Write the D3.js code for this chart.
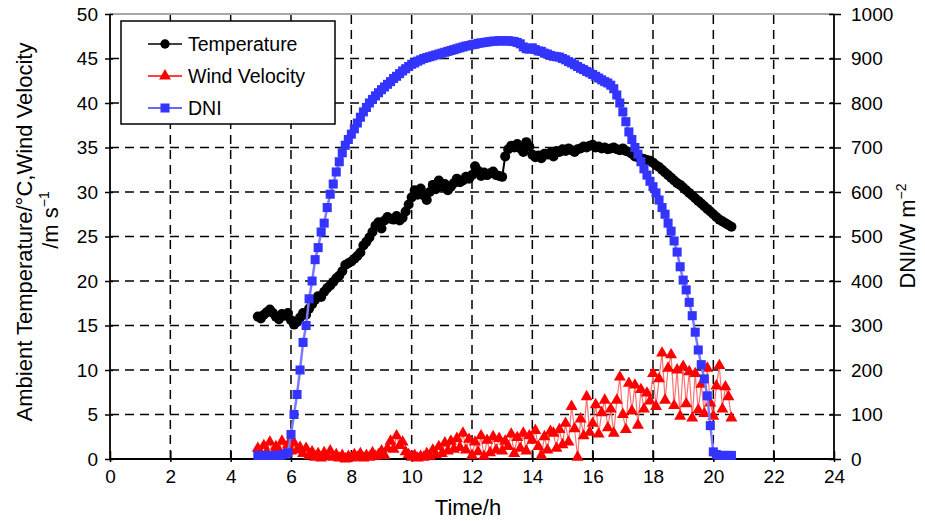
<!DOCTYPE html>
<html>
<head>
<meta charset="utf-8">
<script src="https://cdn.jsdelivr.net/npm/d3@7"></script>
<style>
  body { margin: 0; background: #fff; }
  svg { font-family: "Liberation Sans", Arial, Helvetica, sans-serif; }
</style>
</head>
<body>
<svg id="chart" width="925" height="521"></svg>
<script>
// sample times (h), one row per hour
var hours = [4.9,
  5.0,5.1,5.2,5.3,5.4,5.5,5.6,5.7,5.8,5.9,
  6.0,6.1,6.2,6.3,6.4,6.5,6.6,6.7,6.8,6.9,
  7.0,7.1,7.2,7.3,7.4,7.5,7.6,7.7,7.8,7.9,
  8.0,8.1,8.2,8.3,8.4,8.5,8.6,8.7,8.8,8.9,
  9.0,9.1,9.2,9.3,9.4,9.5,9.6,9.7,9.8,9.9,
  10.0,10.1,10.2,10.3,10.4,10.5,10.6,10.7,10.8,10.9,
  11.0,11.1,11.2,11.3,11.4,11.5,11.6,11.7,11.8,11.9,
  12.0,12.1,12.2,12.3,12.4,12.5,12.6,12.7,12.8,12.9,
  13.0,13.1,13.2,13.3,13.4,13.5,13.6,13.7,13.8,13.9,
  14.0,14.1,14.2,14.3,14.4,14.5,14.6,14.7,14.8,14.9,
  15.0,15.1,15.2,15.3,15.4,15.5,15.6,15.7,15.8,15.9,
  16.0,16.1,16.2,16.3,16.4,16.5,16.6,16.7,16.8,16.9,
  17.0,17.1,17.2,17.3,17.4,17.5,17.6,17.7,17.8,17.9,
  18.0,18.1,18.2,18.3,18.4,18.5,18.6,18.7,18.8,18.9,
  19.0,19.1,19.2,19.3,19.4,19.5,19.6,19.7,19.8,19.9,
  20.0,20.1,20.2,20.3,20.4,20.5,20.6];

// ambient temperature (°C)
var temperature = [16.0,
  15.8,16.2,16.5,16.8,16.4,16.0,15.7,16.3,16.1,16.4,
  15.6,15.1,15.4,15.9,16.4,16.2,16.9,17.4,17.9,18.3,
  18.2,18.8,19.2,19.5,19.9,20.3,20.6,21.1,21.8,22.0,
  22.2,22.5,22.8,23.2,24.0,24.4,24.9,25.5,26.2,26.6,
  25.9,26.8,27.2,27.0,26.9,27.3,26.8,27.1,27.8,28.6,
  29.4,30.2,29.7,30.4,29.6,29.1,30.0,30.8,30.3,31.3,
  30.6,30.9,30.2,30.6,31.0,31.5,31.1,31.3,31.7,31.5,
  31.9,32.9,32.4,31.8,32.2,31.9,32.1,32.3,31.9,31.8,
  31.7,34.0,34.8,35.2,35.0,35.4,34.9,34.5,35.6,35.1,
  34.2,33.9,34.1,33.8,34.3,34.2,34.4,34.0,34.6,34.5,
  34.8,34.6,34.9,34.7,34.5,34.8,34.9,35.1,35.0,35.2,
  35.3,35.0,35.1,34.9,35.0,34.8,34.9,35.0,34.8,34.7,
  34.9,34.6,34.5,34.3,34.0,33.9,33.8,33.7,33.6,33.5,
  33.3,33.0,32.8,32.5,32.2,31.9,31.6,31.3,31.0,30.8,
  30.5,30.2,29.9,29.6,29.3,29.0,28.7,28.4,28.1,27.8,
  27.5,27.2,26.9,26.7,26.5,26.3,26.1];

// wind velocity (m/s)
var wind = [1.2,
  0.6,1.5,0.8,1.9,0.5,1.4,1.0,2.0,0.7,1.6,
  0.9,1.8,1.0,1.3,0.6,1.2,0.4,0.8,0.2,0.6,
  0.1,0.7,0.3,0.9,0.2,0.5,0.1,0.4,0.0,0.3,
  0.1,0.5,0.2,0.6,0.1,0.4,0.2,0.7,0.3,0.5,
  0.9,0.4,1.2,2.0,1.1,2.6,1.5,1.9,0.8,0.5,
  0.2,0.4,0.1,0.3,0.2,0.6,0.3,1.0,0.5,1.4,
  0.6,1.8,0.9,2.0,1.1,2.3,1.3,2.9,1.0,2.2,
  0.4,1.9,0.8,2.6,0.3,2.1,0.7,2.5,1.0,2.3,
  0.9,2.0,1.4,2.8,0.6,2.4,1.2,2.9,0.9,2.6,
  2.1,3.2,1.4,0.4,2.5,1.0,3.1,2.9,1.2,3.3,
  1.6,4.0,1.9,5.9,3.4,0.2,4.5,2.6,7.0,3.0,
  4.0,6.1,2.8,5.2,6.6,3.5,5.6,2.9,6.6,9.2,
  5.0,3.3,8.5,5.4,8.3,3.8,7.8,5.6,7.4,6.5,
  9.6,5.9,9.0,11.9,6.6,10.2,11.7,6.0,10.0,4.8,
  10.4,6.2,9.8,4.6,9.6,5.5,8.4,5.1,10.2,6.3,
  4.8,8.2,10.5,5.6,8.1,7.0,4.6];

// direct normal irradiance (W/m2)
var dni = [8,
  8,8,8,8,8,8,8,9,11,14,
  55,100,145,200,262,300,360,400,448,475,
  510,530,565,595,618,645,668,688,705,718,
  730,742,755,768,780,790,800,808,816,823,
  830,836,842,848,855,860,866,872,877,882,
  887,890,894,897,900,902,904,906,908,910,
  912,914,916,918,920,922,924,926,928,929,
  931,932,934,935,936,937,938,939,939,940,
  940,939,940,939,938,936,933,926,922,921,
  924,920,917,916,912,910,907,905,904,903,
  900,897,893,890,886,882,878,875,871,868,
  864,860,856,852,848,845,840,832,818,800,
  780,758,735,718,700,685,668,652,638,624,
  612,598,582,565,550,530,512,490,465,432,
  402,380,352,322,285,245,212,180,142,75,
  16,10,8,8,8,8,8];

var xTicks = [0,2,4,6,8,10,12,14,16,18,20,22,24];
var yTicks = [0,5,10,15,20,25,30,35,40,45,50];
var dniTicks = [0,100,200,300,400,500,600,700,800,900,1000];
var legendNames = ["Temperature", "Wind Velocity", "DNI"];

var svg = d3.select("#chart"),
  plotL = 110, plotR = 834, plotT = 14, plotB = 459;

var x = d3.scaleLinear().domain([0, 24]).range([plotL, plotR]);
var y = d3.scaleLinear().domain([0, 50]).range([plotB, plotT]);
var yR = d3.scaleLinear().domain([0, 1000]).range([plotB, plotT]);

var blue = "#3434ff", red = "#ff0000";

// dashed grid
var grid = svg.append("g")
  .attr("stroke", "#000")
  .attr("stroke-width", 1.5)
  .attr("stroke-dasharray", "9,6");

grid.selectAll("line.v")
  .data(xTicks.slice(1, -1))
  .enter().append("line")
  .attr("x1", function (d) { return x(d); })
  .attr("x2", function (d) { return x(d); })
  .attr("y1", plotB)
  .attr("y2", plotT);

grid.selectAll("line.h")
  .data(yTicks.slice(1, -1))
  .enter().append("line")
  .attr("x1", plotL)
  .attr("x2", plotR)
  .attr("y1", function (d) { return y(d); })
  .attr("y2", function (d) { return y(d); });

// frame
svg.append("line").attr("x1", plotL).attr("x2", plotR).attr("y1", plotT).attr("y2", plotT)
  .attr("stroke", "#8a8a8a").attr("stroke-width", 1.5);

function styleAxis(g) {
  g.select(".domain").remove();
  g.selectAll(".tick line").attr("stroke", "#000").attr("stroke-width", 1.5);
  g.selectAll(".tick text").attr("fill", "#000")
    .style("font-size", "19px")
    .style("font-family", "'Liberation Sans', Arial, Helvetica, sans-serif");
}

var gx = svg.append("g")
  .attr("transform", "translate(0," + plotB + ")")
  .call(d3.axisBottom(x).tickValues(xTicks).tickSize(3).tickPadding(8))
  .call(styleAxis);
gx.selectAll(".tick line").attr("y1", -8);

var gy = svg.append("g")
  .attr("transform", "translate(" + plotL + ",0)")
  .call(d3.axisLeft(y).tickValues(yTicks).tickSize(5).tickPadding(7))
  .call(styleAxis);
gy.selectAll(".tick line").attr("x1", 3);

var gr = svg.append("g")
  .attr("transform", "translate(" + plotR + ",0)")
  .call(d3.axisRight(yR).tickValues(dniTicks).tickFormat(d3.format("d"))
    .tickSize(7).tickPadding(10))
  .call(styleAxis);
gr.selectAll(".tick line").attr("x1", -5);

svg.append("g").attr("stroke", "#000").attr("stroke-width", 1.8)
  .selectAll("line")
  .data([[plotL, plotT, plotL, plotB], [plotR, plotT, plotR, plotB], [plotL, plotB, plotR, plotB]])
  .enter().append("line")
  .attr("x1", function (d) { return d[0]; })
  .attr("y1", function (d) { return d[1]; })
  .attr("x2", function (d) { return d[2]; })
  .attr("y2", function (d) { return d[3]; });

// series
var tempLine = d3.line()
  .x(function (d, i) { return x(hours[i]); })
  .y(function (d) { return y(d); });
var dniLine = d3.line()
  .x(function (d, i) { return x(hours[i]); })
  .y(function (d) { return yR(d); });

var tri = d3.symbol().type(d3.symbolTriangle).size(62);
var sq = d3.symbol().type(d3.symbolSquare).size(82);

svg.append("path").datum(temperature)
  .attr("d", tempLine).attr("fill", "none").attr("stroke", "#000").attr("stroke-width", 2);
svg.append("g").selectAll("circle")
  .data(temperature)
  .enter().append("circle")
  .attr("cx", function (d, i) { return x(hours[i]); })
  .attr("cy", function (d) { return y(d); })
  .attr("r", 5)
  .attr("fill", "#000");

svg.append("path").datum(wind)
  .attr("d", tempLine).attr("fill", "none").attr("stroke", "#ff7070").attr("stroke-width", 1.2);
svg.append("g").selectAll("path")
  .data(wind)
  .enter().append("path")
  .attr("d", tri)
  .attr("transform", function (d, i) { return "translate(" + x(hours[i]) + "," + y(d) + ")"; })
  .attr("fill", red);

svg.append("path").datum(dni)
  .attr("d", dniLine).attr("fill", "none").attr("stroke", "#7a7aff").attr("stroke-width", 2.5);
svg.append("g").selectAll("path")
  .data(dni)
  .enter().append("path")
  .attr("d", sq)
  .attr("transform", function (d, i) { return "translate(" + x(hours[i]) + "," + yR(d) + ")"; })
  .attr("fill", blue);

// legend
var legend = svg.append("g");
legend.append("rect")
  .attr("x", 121).attr("y", 21).attr("width", 214).attr("height", 103)
  .attr("fill", "#fff").attr("stroke", "#000").attr("stroke-width", 1.5);

var legendColors = ["#000", red, blue];
var legendMarks = [d3.symbol().type(d3.symbolCircle).size(70), tri, sq];
legendNames.forEach(function (name, i) {
  var ly = 44 + i * 32;
  legend.append("line").attr("x1", 148).attr("x2", 182).attr("y1", ly).attr("y2", ly)
    .attr("stroke", legendColors[i]).attr("stroke-width", 1.5);
  legend.append("path").attr("d", legendMarks[i]).attr("fill", legendColors[i])
    .attr("transform", "translate(165," + ly + ")");
  legend.append("text").attr("x", 188).attr("y", ly).attr("dy", "0.35em")
    .style("font-size", "19.5px").text(name);
});

// axis titles
svg.append("text")
  .attr("x", x(12) - 4).attr("y", 515)
  .attr("text-anchor", "middle")
  .style("font-size", "22px")
  .text("Time/h");

svg.append("text")
  .attr("transform", "translate(32,232) rotate(-90)")
  .attr("text-anchor", "middle")
  .style("font-size", "22px")
  .text("Ambient Temperature/°C,Wind Velocity");

var t2 = svg.append("text")
  .attr("transform", "translate(58,220) rotate(-90)")
  .attr("text-anchor", "middle")
  .style("font-size", "22px");
t2.append("tspan").text("/m s");
t2.append("tspan").attr("dy", -9).style("font-size", "14px").text("\u22121");

var t3 = svg.append("text")
  .attr("transform", "translate(915,236) rotate(-90)")
  .attr("text-anchor", "middle")
  .style("font-size", "22px");
t3.append("tspan").text("DNI/W m");
t3.append("tspan").attr("dy", -9).style("font-size", "14px").text("\u22122");
</script>
</body>
</html>
